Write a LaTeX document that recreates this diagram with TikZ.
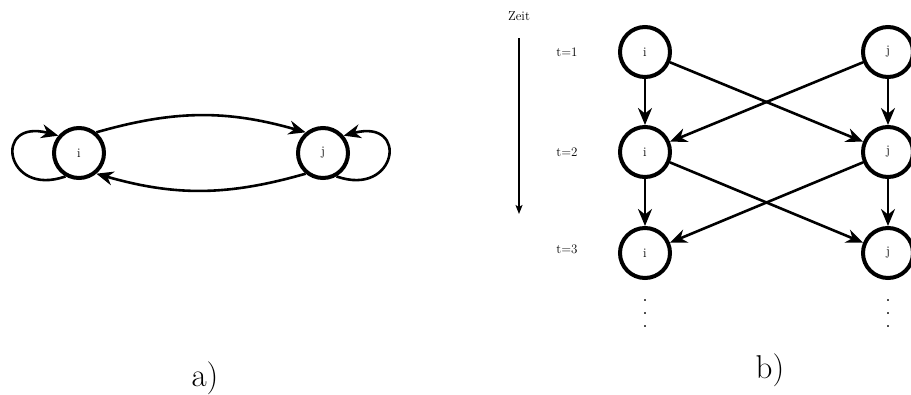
\documentclass[tikz,border=0pt]{standalone}
\usetikzlibrary{arrows.meta}
\begin{document}
\begin{tikzpicture}[x=1pt,y=-1pt,
  state/.style={circle,draw,line width=4pt,minimum size=50pt,inner sep=0pt,font=\fontsize{13}{15}\selectfont},
  edge/.style={line width=2.6pt,-{Stealth[length=17pt,width=14pt,inset=5.5pt]}},
  tlabel/.style={font=\fontsize{13}{15}\selectfont},
  caption/.style={font=\fontsize{33}{38}\selectfont},
  dots/.style={font=\fontsize{24}{13}\selectfont,align=center,inner sep=0pt}]
\useasboundingbox (0,0) rectangle (911,394);

% a) two-state graph
\node[state] (ai) at (79,153) {i};
\node[state] (aj) at (323,153) {j};
\draw[edge] (ai.50) to[bend left=16] (aj.130);
\draw[edge] (aj.-130) to[bend left=16] (ai.-50);
\draw[edge] (ai.-120) .. controls (5,198) and (-8,118) .. (ai.140);
\draw[edge] (aj.-60) .. controls (397,198) and (410,118) .. (aj.40);
\node[caption] (la) at (205,378) {a)};

% b) unrolled in time
\node[tlabel] (zeit) at (519,16) {Zeit};
\coordinate (tt) at (519,38);
\coordinate (tb) at (519,214);
\draw[line width=1.2pt,-{Stealth[length=9pt,width=7pt,inset=2pt]}] (tt) -- (tb);

\node[tlabel] (t1) at (567,52) {t=1};
\node[tlabel] (t2) at (567,152) {t=2};
\node[tlabel] (t3) at (567,249) {t=3};

\node[state] (i1) at (645,52) {i};
\node[state] (j1) at (888,52) {j};
\node[state] (i2) at (645,152) {i};
\node[state] (j2) at (888,152) {j};
\node[state] (i3) at (645,253) {i};
\node[state] (j3) at (888,253) {j};

\draw[edge] (i1) -- (i2);
\draw[edge] (j1) -- (j2);
\draw[edge] (i1) -- (j2);
\draw[edge] (j1) -- (i2);
\draw[edge] (i2) -- (i3);
\draw[edge] (j2) -- (j3);
\draw[edge] (i2) -- (j3);
\draw[edge] (j2) -- (i3);

\node[dots] (di) at (645,314) {.\\.\\.};
\node[dots] (dj) at (888,314) {.\\.\\.};
\node[caption] (lb) at (770,370) {b)};
\end{tikzpicture}
\end{document}
